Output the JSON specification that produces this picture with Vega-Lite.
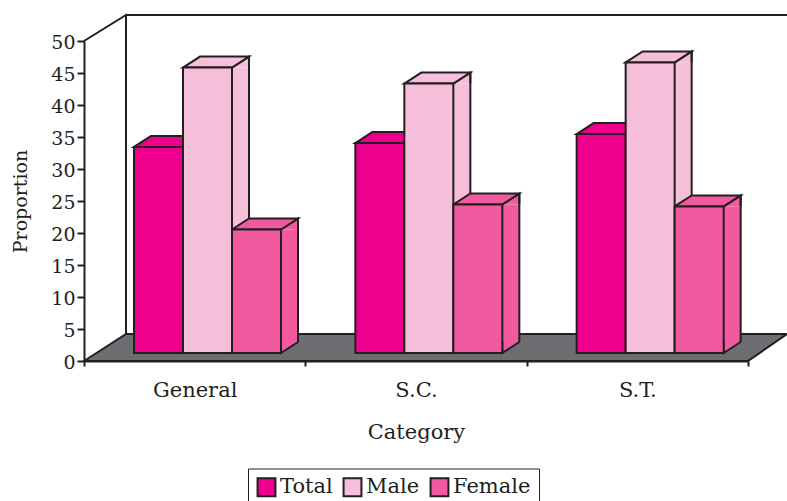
{
  "$schema": "https://vega.github.io/schema/vega-lite/v6.json",
  "width": 664,
  "height": 320,
  "autosize": {"type": "none"},
  "padding": {"left": 84, "top": 41, "right": 39, "bottom": 140},
  "background": "white",
  "view": {"stroke": null},
  "config": {
    "font": "DejaVu Serif",
    "axisX": {"labelAngle": 0, "labelFont": "DejaVu Serif", "labelFontSize": 21, "labelColor": "#231f20", "labelPadding": 13, "domainColor": "#231f20", "domainWidth": 2, "tickColor": "#231f20", "tickWidth": 2, "tickSize": 5, "tickBand": "extent", "titleFont": "DejaVu Serif", "titleFontSize": 21, "titleFontWeight": "normal", "titleColor": "#231f20", "titlePadding": 21, "grid": false},
    "axisY": {"tickCount": 11, "grid": false, "labelFont": "DejaVu Serif", "labelFontSize": 19, "labelColor": "#231f20", "labelPadding": 2, "labelOffset": 1.5, "domainColor": "#231f20", "domainWidth": 2, "tickColor": "#231f20", "tickWidth": 2, "tickSize": 7, "titleFont": "DejaVu Serif", "titleFontSize": 19, "titleFontWeight": "normal", "titleColor": "#231f20", "titlePadding": 20},
    "legend": {"orient": "none", "legendX": 164, "legendY": 427.5, "direction": "horizontal", "symbolType": "square", "symbolSize": 320, "symbolStrokeColor": "#231f20", "symbolStrokeWidth": 2, "labelFont": "DejaVu Serif", "labelFontSize": 21, "labelColor": "#231f20", "labelOffset": 3, "columnPadding": 6, "padding": 8, "strokeColor": "#231f20", "fillColor": "white"}
  },
  "resolve": {"scale": {"xOffset": "independent"}},
  "data": {"values": [
    {"category": "General", "series": "Total", "value": 32.2},
    {"category": "General", "series": "Male", "value": 44.6},
    {"category": "General", "series": "Female", "value": 19.3},
    {"category": "S.C.", "series": "Total", "value": 32.8},
    {"category": "S.C.", "series": "Male", "value": 42.1},
    {"category": "S.C.", "series": "Female", "value": 23.2},
    {"category": "S.T.", "series": "Total", "value": 34.2},
    {"category": "S.T.", "series": "Male", "value": 45.4},
    {"category": "S.T.", "series": "Female", "value": 22.9}
  ]},
  "layer": [
    {
      "data": {"values": [{"plane": "floor"}]},
      "mark": {"type": "point", "filled": true, "size": 4, "shape": "M0,0L42,-27L703,-27L664,0Z", "fill": "#6d6e71", "stroke": "#231f20", "strokeWidth": 2, "opacity": 1},
      "encoding": {
        "x": {"datum": "General", "bandPosition": 0, "title": "Category", "scale": {"type": "band", "domain": ["General", "S.C.", "S.T."], "paddingInner": 0, "paddingOuter": 0}},
        "y": {"datum": 0, "type": "quantitative", "title": "Proportion", "scale": {"domain": [0, 50], "nice": false}}
      }
    },
    {
      "data": {"values": [{"plane": "walls"}]},
      "mark": {"type": "point", "filled": false, "size": 4, "shape": "M0,-320L42,-346L42,-27M42,-346L703,-346", "stroke": "#231f20", "strokeWidth": 2, "opacity": 1},
      "encoding": {
        "x": {"datum": "General", "bandPosition": 0, "title": "Category"},
        "y": {"datum": 0, "type": "quantitative", "title": "Proportion"}
      }
    },
    {
      "mark": {"type": "bar", "width": 17, "yOffset": -8, "y2Offset": -19},
      "encoding": {
        "x": {"field": "category", "type": "nominal", "title": "Category"},
        "xOffset": {"field": "series", "type": "nominal", "scale": {"domain": ["Total", "Male", "Female"], "range": [83, 230], "paddingInner": 0, "paddingOuter": 0}},
        "y": {"field": "value", "type": "quantitative", "title": "Proportion"},
        "y2": {"datum": 0},
        "fill": {"field": "series", "type": "nominal", "title": null}
      }
    },
    {
      "mark": {"type": "point", "filled": true, "size": 4, "shape": "M66,0L66,-11L49,0", "yOffset": -8, "stroke": "#231f20", "strokeWidth": 2, "opacity": 1},
      "encoding": {
        "x": {"field": "category", "type": "nominal", "bandPosition": 0, "title": "Category"},
        "xOffset": {"field": "series", "type": "nominal", "scale": {"domain": ["Total", "Male", "Female"], "range": [50, 148], "padding": 0}},
        "y": {"field": "value", "type": "quantitative", "title": "Proportion"},
        "fill": {"field": "series", "type": "nominal", "title": null}
      }
    },
    {
      "mark": {"type": "point", "filled": true, "size": 4, "shape": "M49,-11L49,0L66,-11", "yOffset": -8, "stroke": "#231f20", "strokeWidth": 2, "opacity": 1},
      "encoding": {
        "x": {"field": "category", "type": "nominal", "bandPosition": 0, "title": "Category"},
        "xOffset": {"field": "series", "type": "nominal", "scale": {"domain": ["Total", "Male", "Female"], "range": [50, 148], "padding": 0}},
        "y": {"datum": 0, "type": "quantitative", "title": "Proportion"},
        "fill": {"field": "series", "type": "nominal", "title": null}
      }
    },
    {
      "mark": {"type": "rule", "stroke": "#231f20", "strokeWidth": 2, "yOffset": -19, "y2Offset": -19},
      "encoding": {
        "x": {"field": "category", "type": "nominal", "title": "Category"},
        "xOffset": {"field": "series", "type": "nominal", "scale": {"domain": ["Total", "Male", "Female"], "range": [91.5, 238.5], "paddingInner": 0, "paddingOuter": 0}},
        "y": {"field": "value", "type": "quantitative", "title": "Proportion"},
        "y2": {"datum": 0}
      }
    },
    {
      "mark": {"type": "point", "filled": true, "size": 4, "shape": "M0,0L17,-11L66,-11L49,0Z", "yOffset": -8, "stroke": "#231f20", "strokeWidth": 2, "opacity": 1},
      "encoding": {
        "x": {"field": "category", "type": "nominal", "bandPosition": 0, "title": "Category"},
        "xOffset": {"field": "series", "type": "nominal", "scale": {"domain": ["Total", "Male", "Female"], "range": [50, 148], "padding": 0}},
        "y": {"field": "value", "type": "quantitative", "title": "Proportion"},
        "fill": {"field": "series", "type": "nominal", "title": null}
      }
    },
    {
      "mark": {"type": "bar", "yOffset": -8, "y2Offset": -8, "stroke": "#231f20", "strokeWidth": 2},
      "encoding": {
        "x": {"field": "category", "type": "nominal", "title": "Category"},
        "xOffset": {"field": "series", "type": "nominal", "scale": {"domain": ["Total", "Male", "Female"], "range": [50, 197], "paddingInner": 0, "paddingOuter": 0}},
        "y": {"field": "value", "type": "quantitative", "title": "Proportion"},
        "y2": {"datum": 0},
        "fill": {"field": "series", "type": "nominal", "title": null,
          "scale": {"domain": ["Total", "Male", "Female"], "range": ["#ec008c", "#f6bed9", "#f15a9f"]}}
      }
    }
  ]
}
